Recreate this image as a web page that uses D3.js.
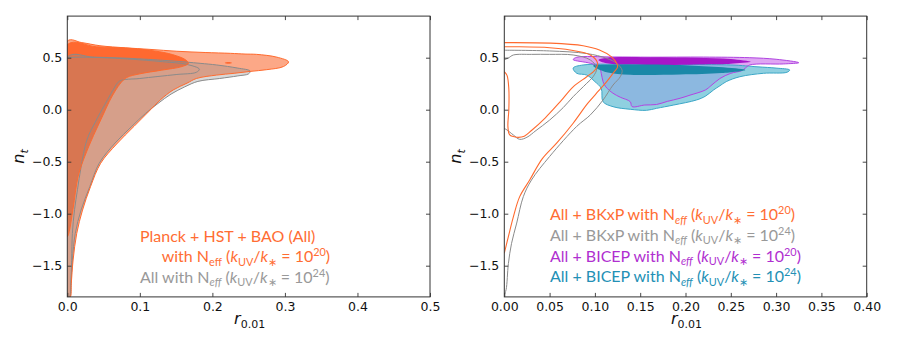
<!DOCTYPE html>
<html>
<head>
<meta charset="utf-8">
<script src="https://cdn.jsdelivr.net/npm/d3@7"></script>
<style>
body{margin:0;background:#fff;}
svg{display:block;}
text{white-space:pre;}
</style>
</head>
<body>
<div id="container"></div>
<script>
// tick values
var leftXTicks=[0,0.1,0.2,0.3,0.4,0.5];
var rightXTicks=[0,0.05,0.1,0.15,0.2,0.25,0.3,0.35,0.4];
var yTicks=[-1.5,-1.0,-0.5,0.0,0.5];

// left panel contours, [r, n_t]
var leftOrangeOuter=[[0,0.66],[0.02,0.645],[0.045,0.615],[0.08,0.595],[0.114,0.58],[0.151,0.562],[0.19,0.55],[0.225,0.542],[0.245,0.535],[0.261,0.532],[0.289,0.505],[0.305,0.46],[0.298,0.415],[0.275,0.385],[0.252,0.368],[0.23,0.35],[0.206,0.333],[0.178,0.3],[0.165,0.255],[0.146,0.19],[0.128,0.093],[0.112,-0.02],[0.092,-0.16],[0.068,-0.33],[0.046,-0.515],[0.032,-0.74],[0.021,-0.965],[0.013,-1.19],[0.008,-1.445],[0.0055,-1.67],[0.004,-1.8],[0,-1.8]];
var leftOrangeInner=[[0,0.625],[0.04,0.605],[0.086,0.59],[0.12,0.565],[0.145,0.53],[0.163,0.48],[0.167,0.446],[0.158,0.415],[0.13,0.38],[0.1,0.345],[0.082,0.31],[0.074,0.26],[0.066,0.18],[0.058,0.08],[0.048,-0.07],[0.036,-0.25],[0.024,-0.45],[0.015,-0.64],[0.008,-0.95],[0.002,-1.19],[0,-1.22]];
var leftOrangeIsland=[[0.217,0.45],[0.222,0.458],[0.227,0.45],[0.222,0.442]];
var leftGrayOuter=[[0,0.505],[0.036,0.505],[0.082,0.495],[0.142,0.47],[0.183,0.446],[0.206,0.43],[0.235,0.4],[0.252,0.372],[0.25,0.345],[0.235,0.325],[0.21,0.3],[0.18,0.272],[0.162,0.22],[0.143,0.15],[0.125,0.06],[0.108,-0.035],[0.089,-0.16],[0.066,-0.32],[0.044,-0.515],[0.031,-0.74],[0.019,-0.965],[0.011,-1.19],[0.007,-1.445],[0.005,-1.67],[0.003,-1.8],[0,-1.8]];
var leftGrayInner=[[0,0.5],[0.016,0.505],[0.05,0.5],[0.085,0.487],[0.131,0.462],[0.165,0.435],[0.182,0.39],[0.178,0.36],[0.15,0.338],[0.1,0.3],[0.072,0.275],[0.064,0.2],[0.055,0.09],[0.04,-0.1],[0.027,-0.29],[0.019,-0.55],[0.014,-0.77],[0.01,-0.96],[0.007,-1.19],[0.006,-1.45],[0.0045,-1.8]];

// right panel: BKxP outlines
var rightOrangeOuter=[[0,0.645],[0.051,0.64],[0.087,0.615],[0.105,0.574],[0.118,0.51],[0.124,0.446],[0.125,0.41],[0.12,0.35],[0.113,0.27],[0.104,0.18],[0.092,0.06],[0.076,-0.13],[0.058,-0.32],[0.042,-0.47],[0.028,-0.676],[0.017,-0.836],[0.01,-1.03],[0.0045,-1.22],[0,-1.38]];
var rightOrangeInner=[[0,0.605],[0.014,0.605],[0.05,0.596],[0.0725,0.574],[0.095,0.526],[0.103,0.446],[0.1,0.38],[0.091,0.317],[0.076,0.22],[0.062,0.08],[0.045,-0.08],[0.03,-0.2],[0.022,-0.255],[0.0137,-0.265],[0.006,-0.243],[0.004,-0.163],[0.005,0],[0.005,0.2],[0.003,0.33],[0,0.365]];
var rightGrayOuter=[[0,0.572],[0.05,0.565],[0.091,0.54],[0.113,0.494],[0.124,0.446],[0.13,0.38],[0.128,0.317],[0.12,0.237],[0.109,0.093],[0.095,-0.05],[0.08,-0.16],[0.05,-0.45],[0.03,-0.676],[0.021,-0.836],[0.0137,-1.09],[0.008,-1.285],[0.0045,-1.48],[0.002,-1.73],[0,-1.78]];
var rightGrayInner=[[0,0.48],[0.005,0.5],[0.01,0.526],[0.03,0.532],[0.05,0.532],[0.076,0.526],[0.095,0.478],[0.102,0.4],[0.098,0.317],[0.091,0.254],[0.076,0.125],[0.065,0.02],[0.05,-0.1],[0.035,-0.2],[0.025,-0.265],[0.017,-0.285],[0.01,-0.243],[0.003,-0.195],[0,-0.18]];

// right panel: BICEP filled regions
var purpleOuter=[[0.076,0.482],[0.08,0.504],[0.12,0.507],[0.161,0.505],[0.22,0.506],[0.271,0.5],[0.3,0.485],[0.325,0.452],[0.308,0.44],[0.271,0.43],[0.266,0.4],[0.262,0.375],[0.25,0.35],[0.238,0.3],[0.228,0.23],[0.222,0.19],[0.205,0.14],[0.194,0.11],[0.18,0.08],[0.168,0.05],[0.155,0.045],[0.141,0.03],[0.139,0.077],[0.128,0.12],[0.12,0.158],[0.112,0.22],[0.109,0.27],[0.107,0.35],[0.105,0.41],[0.095,0.446]];
var purpleInner=[[0.104,0.478],[0.113,0.5],[0.16,0.505],[0.212,0.5],[0.25,0.488],[0.272,0.46],[0.25,0.442],[0.231,0.436],[0.157,0.43],[0.113,0.446]];
var blueOuter=[[0.076,0.4],[0.087,0.43],[0.15,0.432],[0.25,0.43],[0.28,0.412],[0.3,0.4],[0.315,0.382],[0.312,0.36],[0.286,0.35],[0.26,0.317],[0.245,0.27],[0.238,0.23],[0.231,0.19],[0.222,0.13],[0.212,0.093],[0.187,0.045],[0.168,0.013],[0.157,-0.006],[0.139,0.004],[0.12,0.029],[0.109,0.077],[0.107,0.205],[0.1,0.27],[0.091,0.333],[0.08,0.35]];
var blueInner=[[0.098,0.423],[0.12,0.432],[0.2,0.427],[0.266,0.382],[0.24,0.352],[0.194,0.338],[0.139,0.336],[0.113,0.36]];

// legend texts
var leftLegend=[
  {color:'#ff6d33',x:140,y:241.7,parts:[{t:'Planck + HST + BAO (All)'}]},
  {color:'#ff6d33',x:161.7,y:262.3,parts:[{t:'with N'},{t:'eff',sub:1},{t:' ('},{t:'k',it:1},{t:'UV',sub:1},{t:'/'},{t:'k',it:1},{t:'∗',sub:1},{t:' = 10'},{t:'20',sup:1},{t:')'}]},
  {color:'#999999',x:140,y:282.7,parts:[{t:'All with N'},{t:'eff',sub:1,it:1},{t:' ('},{t:'k',it:1},{t:'UV',sub:1},{t:'/'},{t:'k',it:1},{t:'∗',sub:1},{t:' = 10'},{t:'24',sup:1},{t:')'}]}
];
var rightLegendNames=['All + BKxP with N','All + BKxP with N','All + BICEP with N','All + BICEP with N'];
var rightLegendPowers=['20','24','20','24'];
var rightLegendColors=['#ff6d33','#999999','#b02fd0','#2390b5'];

var svg=d3.select('#container')
  .append('svg')
  .attr('width',899)
  .attr('height',337)
  .style('background-color','white');
var defs=svg.append('defs');

var yScale=d3.scaleLinear().domain([-1.8,0.9]).range([296.9,16.1]);
var leftX=d3.scaleLinear().domain([0,0.5]).range([67.3,430]);
var rightX=d3.scaleLinear().domain([0,0.4]).range([504.3,866.7]);

function pathFor(xs,closed){
  return d3.line()
    .x(function(d){return xs(d[0]);})
    .y(function(d){return yScale(d[1]);})
    .curve(closed?d3.curveCatmullRomClosed.alpha(0.5):d3.curveCatmullRom.alpha(0.5));
}

function makeFrame(id,xs,ticks,fmt){
  var x0=xs.range()[0],x1=xs.range()[1];
  var y0=yScale.range()[1],y1=yScale.range()[0];
  defs.append('clipPath').attr('id',id)
    .append('rect').attr('x',x0).attr('y',y0).attr('width',x1-x0).attr('height',y1-y0);
  var g=svg.append('g');
  var plot=g.append('g').attr('clip-path','url(#'+id+')');
  return {g:g,plot:plot,x0:x0,x1:x1,y0:y0,y1:y1,xs:xs,ticks:ticks,fmt:fmt};
}

function finishFrame(p,ylabelX){
  var g=p.g;
  var font='DejaVu Sans';
  var bottom=g.append('g').attr('transform','translate(0,'+p.y1+')')
    .call(d3.axisBottom(p.xs).tickValues(p.ticks).tickFormat(d3.format(p.fmt)).tickSizeInner(-4).tickSizeOuter(0).tickPadding(5.5));
  var top=g.append('g').attr('transform','translate(0,'+p.y0+')')
    .call(d3.axisTop(p.xs).tickValues(p.ticks).tickFormat('').tickSizeInner(-4).tickSizeOuter(0));
  var left=g.append('g').attr('transform','translate('+p.x0+',0)')
    .call(d3.axisLeft(yScale).tickValues(yTicks).tickFormat(d3.format('.1f')).tickSizeInner(-4).tickSizeOuter(0).tickPadding(5));
  var right=g.append('g').attr('transform','translate('+p.x1+',0)')
    .call(d3.axisRight(yScale).tickValues(yTicks).tickFormat('').tickSizeInner(-4).tickSizeOuter(0));
  [bottom,top,left,right].forEach(function(a){
    a.select('.domain').remove();
    a.selectAll('line').attr('stroke','#333').attr('stroke-width',0.9);
    a.selectAll('text').attr('font-family',font).attr('font-size',12.5).attr('fill','#111');
  });
  g.append('rect')
    .attr('x',p.x0).attr('y',p.y0)
    .attr('width',p.x1-p.x0).attr('height',p.y1-p.y0)
    .attr('fill','none').attr('stroke','#333').attr('stroke-width',1);

  // x label r_0.01
  var xl=g.append('text')
    .attr('x',(p.x0+p.x1)/2+1).attr('y',324)
    .attr('text-anchor','middle')
    .attr('font-family',font).attr('font-size',16).attr('fill','#111');
  xl.append('tspan').style('font-style','italic').text('r');
  xl.append('tspan').attr('font-size',11).attr('dy',4).text('0.01');

  // y label n_t
  var yl=g.append('text')
    .attr('transform','translate('+ylabelX+','+((p.y0+p.y1)/2)+') rotate(-90)')
    .attr('text-anchor','middle')
    .attr('font-family',font).attr('font-size',16).attr('fill','#111');
  yl.append('tspan').style('font-style','italic').text('n');
  yl.append('tspan').style('font-style','italic').attr('font-size',11).attr('dy',4).text('t');
}

function richText(parent,x,y,color,parts){
  var size=16;
  var t=parent.append('text')
    .attr('x',x).attr('y',y)
    .attr('font-family','Lato').attr('font-size',size).attr('fill',color);
  var prev=0;
  parts.forEach(function(p){
    var off=p.sub?size*0.22:(p.sup?-size*0.38:0);
    t.append('tspan')
      .attr('dy',off-prev)
      .attr('font-size',(p.sub||p.sup)?size*0.68:size)
      .style('font-style',p.it?'italic':'normal')
      .text(p.t);
    prev=off;
  });
}

// ---------- left panel ----------
var L=makeFrame('clipL',leftX,leftXTicks,'.1f');
var lp=pathFor(leftX,true);
L.plot.append('path').attr('d',lp(leftOrangeOuter)).attr('fill','#fca887');
L.plot.append('path').attr('d',lp(leftOrangeInner)).attr('fill','#ff6930');
L.plot.append('path').attr('d',lp(leftOrangeIsland)).attr('fill','#ff6930');
L.plot.append('path').attr('d',lp(leftGrayOuter)).attr('fill','#909090').attr('fill-opacity',0.35);
L.plot.append('path').attr('d',lp(leftGrayOuter)).attr('fill','none').attr('stroke','#8a8a8a').attr('stroke-width',1);
L.plot.append('path').attr('d',pathFor(leftX,false)(leftGrayInner)).attr('fill','none').attr('stroke','#8a8a8a').attr('stroke-width',1);
L.plot.append('path').attr('d',lp(leftOrangeOuter)).attr('fill','none').attr('stroke','#ff6a2e').attr('stroke-width',1);
L.plot.append('path').attr('d',lp(leftOrangeInner)).attr('fill','none').attr('stroke','#ff6a2e').attr('stroke-width',1);
finishFrame(L,24);
leftLegend.forEach(function(l){richText(svg,l.x,l.y,l.color,l.parts);});

// ---------- right panel ----------
var R=makeFrame('clipR',rightX,rightXTicks,'.2f');
var rp=pathFor(rightX,true);
var ro=pathFor(rightX,false);
defs.append('clipPath').attr('id','clipBlue').append('path').attr('d',rp(blueOuter));
R.plot.append('path').attr('d',rp(blueOuter)).attr('fill','#8fd0e0');
R.plot.append('path').attr('d',rp(purpleOuter)).attr('fill','#dfa6f2');
R.plot.append('g').attr('clip-path','url(#clipBlue)')
  .append('path').attr('d',rp(purpleOuter)).attr('fill','#8cb8e0');
R.plot.append('path').attr('d',rp(blueOuter)).attr('fill','none').attr('stroke','#3ba6c6').attr('stroke-width',1);
R.plot.append('path').attr('d',rp(purpleOuter)).attr('fill','none').attr('stroke','#b044e0').attr('stroke-width',1);
R.plot.append('path').attr('d',rp(purpleInner)).attr('fill','#a716c9');
R.plot.append('path').attr('d',rp(blueInner)).attr('fill','#1a88a8');
R.plot.append('path').attr('d',ro(rightGrayOuter)).attr('fill','none').attr('stroke','#8a8a8a').attr('stroke-width',1);
R.plot.append('path').attr('d',ro(rightGrayInner)).attr('fill','none').attr('stroke','#8a8a8a').attr('stroke-width',1);
R.plot.append('path').attr('d',ro(rightOrangeOuter)).attr('fill','none').attr('stroke','#ff6a2e').attr('stroke-width',1.1);
R.plot.append('path').attr('d',ro(rightOrangeInner)).attr('fill','none').attr('stroke','#ff6a2e').attr('stroke-width',1.1);
finishFrame(R,461);

var rightBase=[220,240.7,261.7,282];
rightLegendNames.forEach(function(name,i){
  richText(svg,550,rightBase[i],rightLegendColors[i],[
    {t:name},{t:'eff',sub:1,it:1},{t:' ('},{t:'k',it:1},{t:'UV',sub:1},{t:'/'},{t:'k',it:1},{t:'∗',sub:1},{t:' = 10'},{t:rightLegendPowers[i],sup:1},{t:')'}
  ]);
});
</script>
</body>
</html>
